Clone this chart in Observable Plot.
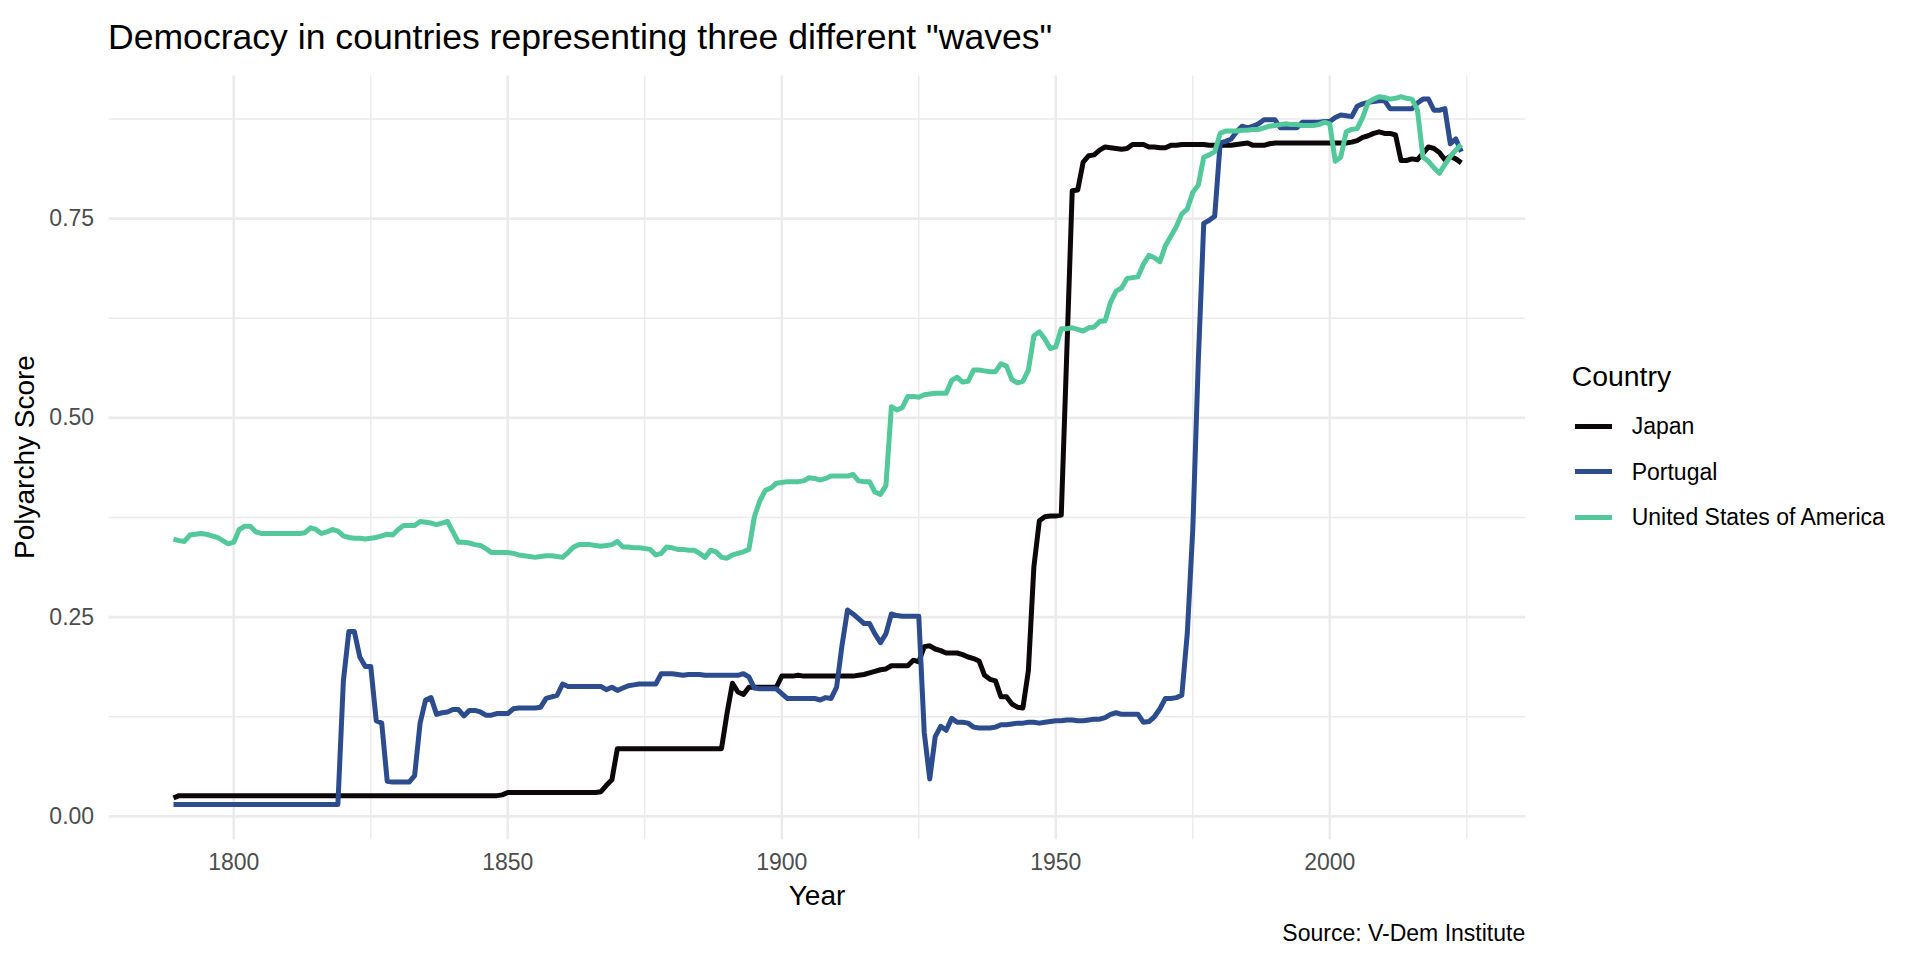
<!DOCTYPE html>
<html>
<head>
<meta charset="utf-8">
<script src="https://cdn.jsdelivr.net/npm/d3@7"></script>
<script src="https://cdn.jsdelivr.net/npm/@observablehq/plot@0.6"></script>
<style>
  html, body { margin: 0; padding: 0; background: #ffffff; }
  #wrap { position: relative; width: 1920px; height: 960px; overflow: hidden;
          font-family: "Liberation Sans", Arial, Helvetica, sans-serif; color: #000; background: #fff; }
  #chart { position: absolute; left: 0; top: 0; }
  .txt { position: absolute; white-space: nowrap; line-height: 1; }
</style>
</head>
<body>
<div id="wrap">
  <div id="chart"></div>
  <div class="txt" id="title" style="left:108px; top:20px; font-size:35.6px;">Democracy in countries representing three different "waves"</div>
  <div class="txt" id="ylab" style="left:24.5px; top:457px; font-size:28px; transform: translate(-50%,-50%) rotate(-90deg);">Polyarchy Score</div>
  <div class="txt" id="xlab" style="left:817px; top:882px; font-size:28px; transform: translateX(-50%);">Year</div>
  <div class="txt" id="caption" style="right:394.8px; top:922px; font-size:23px; text-align:right;">Source: V-Dem Institute</div>
  <div class="txt" id="legtitle" style="left:1571.7px; top:361.7px; font-size:28.4px;">Country</div>
  <div id="legend"></div>
</div>
<script>
// ---------------- data ----------------
const years = d3.range(1789, 2025); // 1789 ... 2024
const countries = ["Japan", "Portugal", "United States of America"];
const colors = ["#0C0708", "#2D4C8E", "#52C89B"];

const japan = [
  0.023,
  0.026,0.026,0.026,0.026,0.026,0.026,0.026,0.026,0.026,0.026, // 1790s
  0.026,0.026,0.026,0.026,0.026,0.026,0.026,0.026,0.026,0.026, // 1800s
  0.026,0.026,0.026,0.026,0.026,0.026,0.026,0.026,0.026,0.026, // 1810s
  0.026,0.026,0.026,0.026,0.026,0.026,0.026,0.026,0.026,0.026, // 1820s
  0.026,0.026,0.026,0.026,0.026,0.026,0.026,0.026,0.026,0.026, // 1830s
  0.026,0.026,0.026,0.026,0.026,0.026,0.026,0.026,0.026,0.027, // 1840s
  0.030,0.030,0.030,0.030,0.030,0.030,0.030,0.030,0.030,0.030, // 1850s
  0.030,0.030,0.030,0.030,0.030,0.030,0.030,0.031,0.039,0.046, // 1860s
  0.085,0.085,0.085,0.085,0.085,0.085,0.085,0.085,0.085,0.085, // 1870s
  0.085,0.085,0.085,0.085,0.085,0.085,0.085,0.085,0.085,0.085, // 1880s
  0.129,0.167,0.156,0.153,0.162,0.162,0.162,0.162,0.162,0.162, // 1890s
  0.176,0.176,0.176,0.177,0.176,0.176,0.176,0.176,0.176,0.176, // 1900s
  0.176,0.176,0.176,0.176,0.177,0.178,0.180,0.182,0.184,0.185, // 1910s
  0.189,0.189,0.189,0.189,0.196,0.194,0.213,0.214,0.210,0.208, // 1920s
  0.205,0.205,0.205,0.203,0.200,0.198,0.195,0.177,0.172,0.170, // 1930s
  0.150,0.150,0.141,0.137,0.136,0.183,0.313,0.371,0.376,0.377, // 1940s
  0.377,0.378,0.580,0.785,0.786,0.821,0.829,0.830,0.836,0.840, // 1950s
  0.839,0.838,0.837,0.838,0.843,0.843,0.843,0.840,0.840,0.839, // 1960s
  0.839,0.842,0.842,0.843,0.843,0.843,0.843,0.843,0.842,0.842, // 1970s
  0.842,0.842,0.842,0.843,0.844,0.845,0.842,0.842,0.842,0.844, // 1980s
  0.845,0.845,0.845,0.845,0.845,0.845,0.845,0.845,0.845,0.845, // 1990s
  0.845,0.845,0.845,0.845,0.846,0.848,0.852,0.854,0.857,0.859, // 2000s
  0.857,0.857,0.855,0.823,0.823,0.825,0.824,0.832,0.840,0.838, // 2010s
  0.833,0.824,0.828,0.825,0.820                                // 2020-2024
];

const portugal = [
  0.015,
  0.015,0.015,0.015,0.015,0.015,0.015,0.015,0.015,0.015,0.015, // 1790s
  0.015,0.015,0.015,0.015,0.015,0.015,0.015,0.015,0.015,0.015, // 1800s
  0.015,0.015,0.015,0.015,0.015,0.015,0.015,0.015,0.015,0.015, // 1810s
  0.170,0.232,0.232,0.200,0.188,0.188,0.120,0.117,0.044,0.043, // 1820s
  0.043,0.043,0.043,0.051,0.117,0.146,0.149,0.128,0.130,0.131, // 1830s
  0.134,0.134,0.126,0.133,0.133,0.131,0.127,0.127,0.129,0.129, // 1840s
  0.129,0.135,0.136,0.136,0.136,0.136,0.137,0.148,0.150,0.152, // 1850s
  0.166,0.163,0.163,0.163,0.163,0.163,0.163,0.163,0.159,0.162, // 1860s
  0.158,0.161,0.164,0.165,0.166,0.166,0.166,0.166,0.179,0.179, // 1870s
  0.179,0.178,0.177,0.178,0.178,0.178,0.177,0.177,0.177,0.177, // 1880s
  0.177,0.177,0.177,0.179,0.175,0.161,0.160,0.160,0.160,0.160, // 1890s
  0.154,0.148,0.148,0.148,0.148,0.148,0.148,0.146,0.149,0.148, // 1900s
  0.162,0.215,0.259,0.254,0.248,0.242,0.242,0.229,0.218,0.229, // 1910s
  0.254,0.252,0.251,0.251,0.251,0.251,0.105,0.047,0.100,0.113, // 1920s
  0.108,0.123,0.118,0.118,0.117,0.112,0.111,0.111,0.111,0.112, // 1930s
  0.115,0.115,0.116,0.117,0.117,0.118,0.118,0.117,0.118,0.119, // 1940s
  0.120,0.120,0.121,0.121,0.120,0.120,0.121,0.122,0.122,0.124, // 1950s
  0.128,0.130,0.128,0.128,0.128,0.128,0.118,0.119,0.125,0.135, // 1960s
  0.148,0.148,0.149,0.152,0.230,0.360,0.570,0.744,0.748,0.753, // 1970s
  0.845,0.847,0.850,0.859,0.866,0.864,0.866,0.869,0.874,0.874, // 1980s
  0.874,0.864,0.864,0.864,0.864,0.871,0.871,0.871,0.871,0.872, // 1990s
  0.872,0.877,0.880,0.879,0.878,0.891,0.894,0.896,0.897,0.898, // 2000s
  0.898,0.888,0.888,0.888,0.888,0.888,0.895,0.900,0.900,0.886, // 2010s
  0.886,0.888,0.844,0.850,0.834                                // 2020-2024
];

const usa = [
  0.348,
  0.346,0.345,0.353,0.354,0.355,0.354,0.352,0.350,0.346,0.342, // 1790s
  0.344,0.360,0.364,0.364,0.357,0.355,0.355,0.355,0.355,0.355, // 1800s
  0.355,0.355,0.355,0.356,0.362,0.360,0.355,0.357,0.360,0.358, // 1810s
  0.352,0.350,0.349,0.349,0.348,0.349,0.350,0.352,0.354,0.353, // 1820s
  0.360,0.365,0.365,0.365,0.370,0.369,0.368,0.366,0.368,0.370, // 1830s
  0.357,0.344,0.344,0.343,0.341,0.340,0.336,0.331,0.331,0.331, // 1840s
  0.331,0.330,0.328,0.327,0.326,0.325,0.326,0.327,0.327,0.326, // 1850s
  0.325,0.331,0.338,0.341,0.341,0.341,0.340,0.339,0.340,0.341, // 1860s
  0.345,0.338,0.338,0.337,0.337,0.336,0.335,0.328,0.330,0.338, // 1870s
  0.337,0.335,0.335,0.334,0.334,0.330,0.325,0.334,0.332,0.325, // 1880s
  0.324,0.328,0.330,0.332,0.335,0.376,0.396,0.409,0.412,0.418, // 1890s
  0.419,0.420,0.420,0.420,0.421,0.425,0.424,0.422,0.424,0.427, // 1900s
  0.427,0.427,0.427,0.429,0.421,0.420,0.420,0.407,0.404,0.415, // 1910s
  0.514,0.510,0.513,0.527,0.527,0.526,0.529,0.530,0.531,0.531, // 1920s
  0.531,0.547,0.551,0.545,0.546,0.560,0.560,0.559,0.558,0.558, // 1930s
  0.568,0.565,0.548,0.544,0.546,0.560,0.603,0.608,0.599,0.587, // 1940s
  0.589,0.612,0.612,0.613,0.611,0.609,0.613,0.614,0.621,0.622, // 1950s
  0.645,0.659,0.663,0.675,0.676,0.677,0.693,0.704,0.701,0.696, // 1960s
  0.716,0.728,0.740,0.756,0.762,0.783,0.792,0.827,0.830,0.834, // 1970s
  0.857,0.860,0.860,0.860,0.861,0.861,0.862,0.862,0.864,0.866, // 1980s
  0.867,0.868,0.869,0.868,0.868,0.867,0.867,0.867,0.868,0.871, // 1990s
  0.869,0.822,0.827,0.859,0.862,0.863,0.877,0.896,0.900,0.903, // 2000s
  0.902,0.900,0.901,0.903,0.901,0.900,0.886,0.827,0.822,0.814, // 2010s
  0.807,0.818,0.828,0.836,0.843                                // 2020-2024
];

const xMajor = [1800, 1850, 1900, 1950, 2000];
const xMinor = [1825, 1875, 1925, 1975, 2025];
const yMajor = [0, 0.25, 0.5, 0.75];
const yMinor = [0.125, 0.375, 0.625, 0.875];

// ---------------- build table ----------------
const series = [japan, portugal, usa];
const rows = [];
countries.forEach((c, i) => {
  series[i].forEach((v, j) => rows.push({country: c, year: years[j], value: v}));
});

const gridColor = "#EBEBEB";

const chart = Plot.plot({
  width: 1920,
  height: 960,
  marginLeft: 108.6,
  marginRight: 394.8,
  marginTop: 75.5,
  marginBottom: 120.7,
  style: {fontFamily: "'Liberation Sans', Arial, Helvetica, sans-serif", background: "transparent", overflow: "visible"},
  x: {domain: [1777.25, 2035.75]},
  y: {domain: [-0.0294, 0.929]},
  color: {domain: countries, range: colors},
  marks: [
    Plot.ruleX(xMinor, {stroke: gridColor, strokeWidth: 1.4}),
    Plot.ruleY(yMinor, {stroke: gridColor, strokeWidth: 1.4}),
    Plot.ruleX(xMajor, {stroke: gridColor, strokeWidth: 2.6}),
    Plot.ruleY(yMajor, {stroke: gridColor, strokeWidth: 2.6}),
    Plot.line(rows, {x: "year", y: "value", z: "country", stroke: "country",
      strokeWidth: 5, strokeLinecap: "butt", strokeLinejoin: "round"}),
    Plot.axisY(yMajor, {tickSize: 0, tickPadding: 15, tickFormat: d3.format(".2f"),
      fontSize: 23, fill: "#4D4D4D", label: null}),
    Plot.axisX(xMajor, {tickSize: 0, tickPadding: 14, tickFormat: d3.format("d"),
      fontSize: 23, fill: "#4D4D4D", label: null})
  ]
});
document.getElementById("chart").appendChild(chart);

// ---------------- legend ----------------
const legend = document.getElementById("legend");
const keyX = 1575, keyW = 36.7, keyY0 = 426, keyStep = 45.85, labelX = 1631.7;
countries.forEach((c, i) => {
  const y = keyY0 + i * keyStep;
  const key = document.createElement("div");
  key.style.cssText = `position:absolute;left:${keyX}px;top:${y - 2.5}px;width:${keyW}px;height:5px;background:${colors[i]};`;
  legend.appendChild(key);
  const lab = document.createElement("div");
  lab.className = "txt";
  lab.style.cssText = `left:${labelX}px;top:${y - 11.3}px;font-size:23px;`;
  lab.textContent = c;
  legend.appendChild(lab);
});
</script>
</body>
</html>
